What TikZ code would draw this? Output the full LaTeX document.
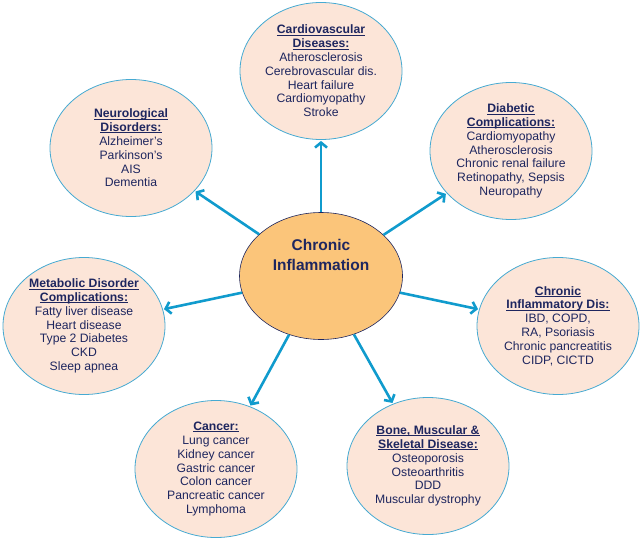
\documentclass[tikz,border=0pt]{standalone}
\usepackage{fontspec}
\setmainfont{Liberation Sans}
\usetikzlibrary{shapes.geometric,arrows.meta}
\definecolor{navy}{RGB}{30,38,95}
\definecolor{peach}{RGB}{252,229,216}
\definecolor{rim}{RGB}{70,170,210}
\definecolor{corefill}{RGB}{251,197,122}
\definecolor{arrowblue}{RGB}{16,155,205}
\newsavebox{\hdbox}
\newcommand{\hd}[1]{\sbox{\hdbox}{\bfseries #1}\rlap{\rule[-1.6pt]{\wd\hdbox}{0.8pt}}\usebox{\hdbox}}
\tikzstyle{disease} = [ellipse, draw=rim, line width=0.8pt, fill=peach, minimum width=162pt, minimum height=137pt, inner sep=0pt, align=center, text=navy, font=\fontsize{12.2}{13.8}\selectfont]
\tikzstyle{core}    = [ellipse, draw=navy, line width=0.6pt, fill=corefill, minimum width=163pt, minimum height=127pt, inner sep=0pt, align=center, text=navy, text depth=43pt, font=\bfseries\fontsize{15.5}{20}\selectfont]
\tikzstyle{arrow}   = [line width=2.6pt, draw=arrowblue, -{Straight Barb[length=5pt,width=12pt]}, shorten >=1pt]

\begin{document}
\begin{tikzpicture}[x=1pt,y=-1pt]
		\useasboundingbox (0,0) rectangle (644,543);

		\node[core] (inflam) at (321,276) {Chronic\\Inflammation};

		\node[disease] (cardio) at (321,71) {\hd{Cardiovascular}\\\hd{Diseases:}\\Atherosclerosis\\Cerebrovascular dis.\\Heart failure\\Cardiomyopathy\\Stroke};
		\node[disease] (neuro) at (131,148) {\hd{Neurological}\\\hd{Disorders:}\\Alzheimer's\\Parkinson's\\AIS\\Dementia};
		\node[disease] (diab) at (511,151) {\hd{Diabetic}\\\hd{Complications:}\\Cardiomyopathy\\Atherosclerosis\\Chronic renal failure\\Retinopathy, Sepsis\\Neuropathy};
		\node[disease] (cid) at (558,326) {\hd{Chronic}\\\hd{Inflammatory Dis:}\\IBD, COPD,\\RA, Psoriasis\\Chronic pancreatitis\\CIDP, CICTD};
		\node[disease] (metab) at (84,326) {\hd{Metabolic Disorder}\\\hd{Complications:}\\Fatty liver disease\\Heart disease\\Type 2 Diabetes\\CKD\\Sleep apnea};
		\node[disease] (cancer) at (216,469) {\hd{Cancer:}\\Lung cancer\\Kidney cancer\\Gastric cancer\\Colon cancer\\Pancreatic cancer\\Lymphoma};
		\node[disease] (bone) at (428,466) {\hd{Bone, Muscular \&}\\\hd{Skeletal Disease:}\\Osteoporosis\\Osteoarthritis\\DDD\\Muscular dystrophy};

		\draw[arrow] (inflam) -- (cardio);
		\draw[arrow] (inflam) -- (neuro);
		\draw[arrow] (inflam) -- (diab);
		\draw[arrow] (inflam) -- (cid);
		\draw[arrow] (inflam) -- (metab);
		\draw[arrow] (inflam) -- (cancer);
		\draw[arrow] (inflam) -- (bone);
	\end{tikzpicture}
\end{document}
